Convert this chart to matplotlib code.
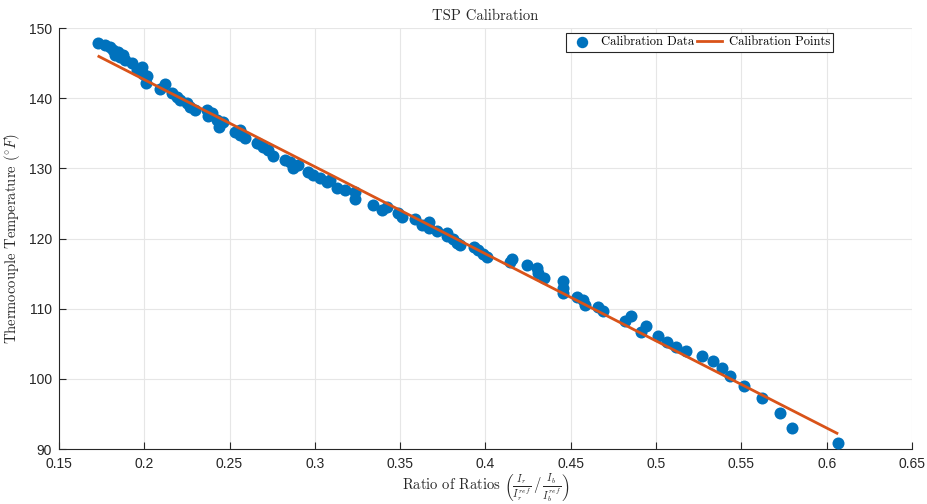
import matplotlib.pyplot as plt

# Calibration data
ratio = [0.173, 0.177, 0.180, 0.1818, 0.1828, 0.1848, 0.1858, 0.1877, 0.1887, 0.1926,
         0.1955, 0.1985, 0.1994, 0.2014, 0.201, 0.2092, 0.2121, 0.216, 0.219, 0.2209,
         0.2249, 0.2268, 0.2297, 0.2366, 0.2375, 0.2395, 0.2424, 0.244, 0.2463, 0.2532,
         0.2561, 0.256, 0.259, 0.2659, 0.2668, 0.2698, 0.2727, 0.2752, 0.2825, 0.2854,
         0.2873, 0.2903, 0.2961, 0.2991, 0.303, 0.3073, 0.3089, 0.3128, 0.3176, 0.3235,
         0.3235, 0.3342, 0.3391, 0.3421, 0.3489, 0.3509, 0.3587, 0.3626, 0.3671, 0.3671,
         0.3718, 0.3773, 0.3773, 0.3808, 0.3831, 0.385, 0.3933, 0.3958, 0.3987, 0.4011,
         0.4153, 0.4144, 0.4241, 0.430, 0.4309, 0.4343, 0.4456, 0.4452, 0.4456, 0.4534,
         0.4573, 0.4583, 0.4661, 0.469, 0.4818, 0.4851, 0.4912, 0.4939, 0.5013, 0.5062,
         0.5115, 0.5175, 0.527, 0.5335, 0.5388, 0.5433, 0.5517, 0.5619, 0.5726, 0.5795,
         0.6066]
temp = [147.8, 147.6, 147.3, 146.9, 146.2, 146.6, 145.9, 146.2, 145.4, 145.0,
        144.0, 144.5, 143.5, 143.1, 142.2, 141.3, 142.0, 140.7, 140.2, 139.7,
        139.3, 138.8, 138.3, 138.3, 137.5, 137.85, 136.9, 135.9, 136.65, 135.2,
        134.8, 135.5, 134.3, 133.6, 133.6, 133.1, 132.6, 131.8, 131.2, 130.95,
        130.0, 130.5, 129.5, 129.1, 128.6, 128.0, 128.35, 127.2, 126.9, 126.7,
        125.6, 124.8, 124.0, 124.5, 123.6, 123.1, 122.8, 121.9, 122.3, 121.5,
        121.1, 120.8, 120.4, 119.9, 119.4, 119.1, 118.8, 118.3, 117.8, 117.3,
        117.05, 116.6, 116.2, 115.8, 115.1, 114.4, 114.0, 112.9, 112.3, 111.7,
        111.25, 110.5, 110.2, 109.6, 108.3, 109.0, 106.7, 107.6, 106.1, 105.3,
        104.6, 103.9, 103.2, 102.5, 101.5, 100.4, 99.0, 97.2, 95.2, 93.06,
        90.9]

# Linear calibration fit endpoints
fit_x = [0.1734, 0.606]
fit_y = [145.95, 92.25]

plt.rcParams['mathtext.fontset'] = 'cm'
plt.rcParams['font.family'] = ['Liberation Sans', 'DejaVu Sans']
serif = ['cmr10', 'DejaVu Serif']

fig = plt.figure(figsize=(9.27, 5.04), dpi=100)
ax = fig.add_axes([0.0636, 0.1091, 0.9202, 0.8353])

ax.scatter(ratio, temp, s=75, color='#0072BD', zorder=3, linewidths=0,
           label='Calibration Data')
ax.plot(fit_x, fit_y, color='#D95319', linewidth=2, zorder=4,
        label='Calibration Points')

ax.set_xlim(0.15, 0.65)
ax.set_ylim(90, 150)
ax.set_xticks([0.15, 0.2, 0.25, 0.3, 0.35, 0.4, 0.45, 0.5, 0.55, 0.6, 0.65])
ax.set_xticklabels(['0.15', '0.2', '0.25', '0.3', '0.35', '0.4', '0.45', '0.5', '0.55', '0.6', '0.65'])
ax.set_yticks([90, 100, 110, 120, 130, 140, 150])
ax.grid(True, color='#e6e6e6', linewidth=0.8, zorder=0)
ax.set_axisbelow(True)

for side in ['top', 'right']:
    ax.spines[side].set_visible(False)
for side in ['left', 'bottom']:
    ax.spines[side].set_color('#262626')
    ax.spines[side].set_linewidth(0.8)
ax.tick_params(direction='in', length=5, width=0.8, colors='#262626',
               labelsize=10, labelcolor='#262626')
ax.tick_params(axis='x', pad=6)
ax.tick_params(axis='y', pad=5)

ax.set_title('TSP Calibration', family=serif, fontsize=10.5, color='#262626', pad=6)
ax.set_xlabel(r'Ratio of Ratios $\left(\frac{I_r}{I_r^{ref}}\,/\,\frac{I_b}{I_b^{ref}}\right)$',
              family=serif, fontsize=10.5, color='#262626', labelpad=1)
ax.set_ylabel(r'Thermocouple Temperature ($^{\circ}F$)', family=serif, fontsize=10.5,
              color='#262626', labelpad=5)

leg = ax.legend(loc='center', bbox_to_anchor=(0.751, 0.966), ncol=2, fancybox=False,
                edgecolor='#262626', framealpha=1, prop={'family': serif, 'size': 9},
                handlelength=2.0, columnspacing=0.3, handletextpad=0.5,
                borderpad=0.25, markerscale=0.95)
leg.get_frame().set_linewidth(0.8)

plt.savefig('out.png', dpi=100)
